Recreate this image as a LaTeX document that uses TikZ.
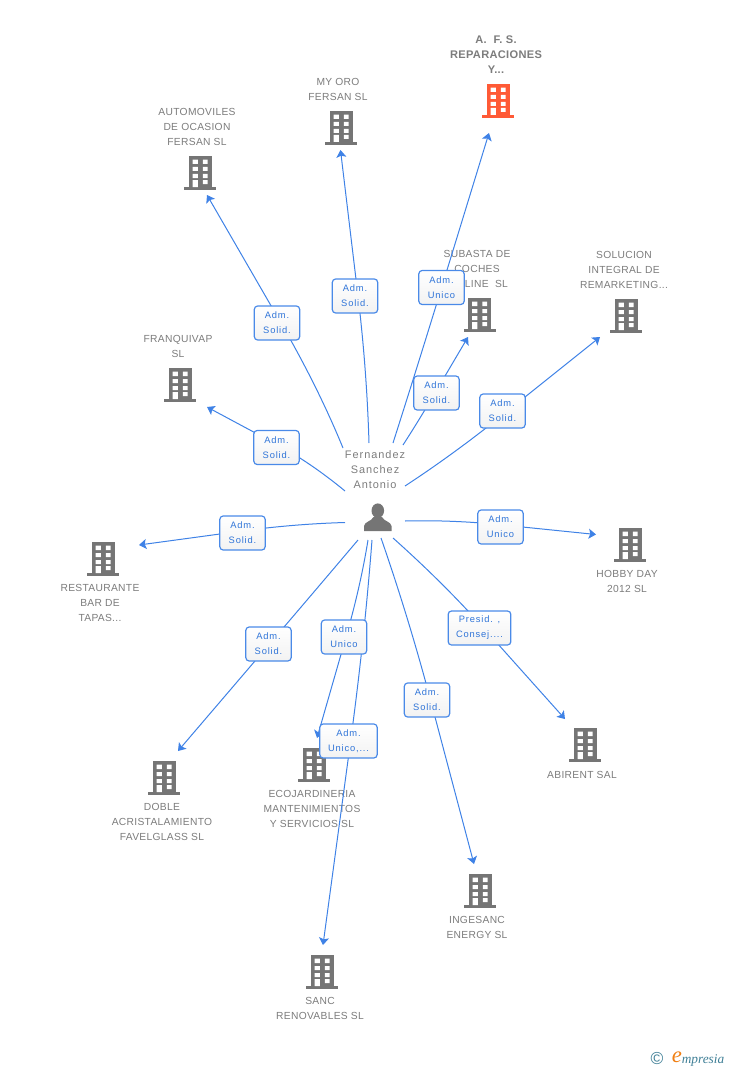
\documentclass[tikz,border=0pt]{standalone}
\usepackage{fontspec}
\setmainfont{Liberation Sans}
\newfontfamily\tagfont[LetterSpace=9]{Liberation Sans}
\newfontfamily\namefont[LetterSpace=3]{Liberation Sans}
\newfontfamily\personfont[LetterSpace=9]{Liberation Sans}
\newfontfamily\logofont{Liberation Serif}
\usetikzlibrary{arrows.meta,calc,shadings}
\pgfdeclarelayer{base}
\pgfdeclarelayer{edge}
\pgfsetlayers{base,edge,main}
\definecolor{linkblue}{HTML}{3F82E6}
\definecolor{boxblue}{HTML}{4A8AE8}
\definecolor{tagtext}{HTML}{2F74D8}
\definecolor{iconGrey}{HTML}{757575}
\definecolor{nameGrey}{HTML}{7C7C7C}
\definecolor{hot}{HTML}{FF5A36}
\definecolor{logoteal}{HTML}{3F7F96}
\definecolor{logoorange}{HTML}{F07F13}
\tikzset{
  bldg/.style={minimum width=33.5pt,minimum height=33.5pt,inner sep=0pt,
    path picture={
      \begin{scope}[shift={(path picture bounding box.center)},x=0.75pt,y=-0.75pt]
        \fill[#1] (-11.5,-16.7) rectangle (11.5,14.5);
        \fill[#1] (-16,14) rectangle (16,16.7);
        \fill[white] (-7.3,-13.3) rectangle (-2.2,-9) (2.8,-13.3) rectangle (7.5,-9);
        \fill[white] (-7.3,-6) rectangle (-2.2,-2) (2.8,-6) rectangle (7.5,-2);
        \fill[white] (-7.3,1) rectangle (-2.2,5) (2.8,1) rectangle (7.5,5);
        \fill[white] (-7.3,7) rectangle (-2.2,14) (2.8,7) rectangle (7.5,11);
      \end{scope}}},
  personicon/.style={minimum width=25pt,minimum height=25pt,inner sep=0pt,
    path picture={
      \begin{scope}[shift={(path picture bounding box.center)},x=0.75pt,y=-0.75pt]
        \fill[iconGrey] (0.3,-6.3) ellipse (6.3 and 7.3);
        \fill[iconGrey] (-13.5,14) -- (-13.5,9) .. controls (-13,4.5) and (-6,4.5) .. (-4,0)
          -- (4.5,0) .. controls (6.5,4.5) and (13.5,4.5) .. (14,9) -- (14,14) -- cycle;
      \end{scope}}},
  nametext/.style={font=\namefont\fontsize{7.7}{11.25}\selectfont,text=nameGrey,align=center,inner sep=0pt},
  tag/.style={draw=boxblue,line width=0.9pt,rounded corners=2.5pt,top color=white,bottom color=black!5,
    font=\tagfont\fontsize{7}{11.25}\selectfont,text=tagtext,align=center,inner sep=0pt,
    minimum height=25.5pt,minimum width=#1},
  tag/.default=34pt,
  link/.style={draw=linkblue,line width=0.75pt,-{Stealth[length=5.5pt,width=7.5pt,inset=1.2pt]}}
}
\newcommand{\linkcurve}[3]{\draw[link] (#1) .. controls ($(#1)!0.667!($(#2)!-0.5!(#3)$)$) and ($(#2)!0.667!($(#2)!-0.5!(#3)$)$) .. (#2) -- (#3);}
\begin{document}
\begin{tikzpicture}[x=0.75pt,y=-0.75pt]
\useasboundingbox (0,0) rectangle (728,1070);
\begin{pgfonlayer}{base}
  \node[bldg=hot] (afs) at (498,101) {};
  \node[bldg=iconGrey] (oro) at (341,128) {};
  \node[bldg=iconGrey] (auto) at (200,173) {};
  \node[bldg=iconGrey] (franq) at (180,385) {};
  \node[bldg=iconGrey] (sub) at (479.5,315) {};
  \node[bldg=iconGrey] (sol) at (626,316) {};
  \node[bldg=iconGrey] (hobby) at (630,545) {};
  \node[bldg=iconGrey] (rest) at (103,559) {};
  \node[bldg=iconGrey] (abi) at (585,745) {};
  \node[bldg=iconGrey] (eco) at (314,765) {};
  \node[bldg=iconGrey] (dob) at (164,778) {};
  \node[bldg=iconGrey] (inge) at (480,891) {};
  \node[bldg=iconGrey] (sanc) at (322,972) {};
  \node[personicon] (person) at (377.5,517) {};
  \node[nametext,font=\namefont\bfseries\fontsize{8.3}{11.25}\selectfont] (afst) at (496,55) {A.\ \ F.\ S.\\REPARACIONES\\Y...};
  \node[nametext] (orot) at (338,89.5) {MY ORO\\FERSAN SL};
  \node[nametext] (autot) at (197,127) {AUTOMOVILES\\DE OCASION\\FERSAN SL};
  \node[nametext] (franqt) at (178,346.5) {FRANQUIVAP\\SL};
  \node[nametext] (subt) at (477,269) {SUBASTA DE\\COCHES\\ON LINE\ \ SL};
  \node[nametext] (solt) at (624,270) {SOLUCION\\INTEGRAL DE\\REMARKETING...};
  \node[nametext,font=\personfont\fontsize{8.2}{11.25}\selectfont] (persont) at (375,470) {Fernandez\\Sanchez\\Antonio};
  \node[nametext] (hobbyt) at (627,581.5) {HOBBY DAY\\2012 SL};
  \node[nametext] (restt) at (100,603) {RESTAURANTE\\BAR DE\\TAPAS...};
  \node[nametext] (abit) at (582,775) {ABIRENT SAL};
  \node[nametext] (dobt) at (162,822) {DOBLE\\ACRISTALAMIENTO\\FAVELGLASS SL};
  \node[nametext] (ecot) at (312,809) {ECOJARDINERIA\\MANTENIMIENTOS\\Y SERVICIOS SL};
  \node[nametext] (inget) at (477,927.5) {INGESANC\\ENERGY SL};
  \node[nametext] (sanct) at (320,1008.5) {SANC\\RENOVABLES SL};
\end{pgfonlayer}

\node[tag] (lafs) at (441.5,287.5) {Adm.\\Unico};
\node[tag] (loro) at (355,296) {Adm.\\Solid.};
\node[tag] (lauto) at (277,323) {Adm.\\Solid.};
\node[tag] (lfranq) at (276.5,447.5) {Adm.\\Solid.};
\node[tag] (lsub) at (436.5,393) {Adm.\\Solid.};
\node[tag] (lsol) at (502.5,411) {Adm.\\Solid.};
\node[tag] (lhobby) at (500.5,527) {Adm.\\Unico};
\node[tag] (lrest) at (242.5,533) {Adm.\\Solid.};
\node[tag] (ldob) at (268.5,644) {Adm.\\Solid.};
\node[tag] (leco) at (344,637) {Adm.\\Unico};
\node[tag=43pt] (lsanc) at (348.5,741) {Adm.\\Unico,...};
\node[tag] (linge) at (427,700) {Adm.\\Solid.};
\node[tag=47pt] (labi) at (479.5,628) {Presid. ,\\Consej....};

% free ends at the person, at the tips, and where each line passes behind its tag
\coordinate (safs) at (393,443);   \coordinate (vafs) at (441.8,287);   \coordinate (eafs) at (489,133);
\coordinate (soro) at (369,443);   \coordinate (voro) at (358,296);     \coordinate (eoro) at (340.5,150);
\coordinate (sauto) at (343,448);  \coordinate (vauto) at (281,323);    \coordinate (eauto) at (207,195);
\coordinate (sfranq) at (345,491); \coordinate (vfranq) at (276,444);   \coordinate (efranq) at (207,407);
\coordinate (ssub) at (403,445);   \coordinate (vsub) at (435,393);     \coordinate (esub) at (468,337);
\coordinate (ssol) at (405,486);   \coordinate (vsol) at (502,415.4);   \coordinate (esol) at (600,337);
\coordinate (shobby) at (405,521); \coordinate (vhobby) at (500,524.7); \coordinate (ehobby) at (596,534.5);
\coordinate (sabi) at (393,538);   \coordinate (vabi) at (483.6,628);   \coordinate (eabi) at (565,719);
\coordinate (singe) at (381,538);  \coordinate (vinge) at (430.5,700);  \coordinate (einge) at (474,864);
\coordinate (ssanc) at (372,540);  \coordinate (vsanc) at (350.6,741);  \coordinate (esanc) at (323,945);
\coordinate (seco) at (368,540);   \coordinate (veco) at (346,637);     \coordinate (eeco) at (317,738);
\coordinate (sdob) at (358,540);   \coordinate (vdob) at (269.5,644);   \coordinate (edob) at (178,751);
\coordinate (srest) at (345,522.5);\coordinate (vrest) at (242,531);    \coordinate (erest) at (139,545);

\begin{pgfonlayer}{edge}
  \linkcurve{safs}{vafs}{eafs}
  \linkcurve{soro}{voro}{eoro}
  \linkcurve{sauto}{vauto}{eauto}
  \linkcurve{sfranq}{vfranq}{efranq}
  \linkcurve{ssub}{vsub}{esub}
  \linkcurve{ssol}{vsol}{esol}
  \linkcurve{shobby}{vhobby}{ehobby}
  \linkcurve{sabi}{vabi}{eabi}
  \linkcurve{singe}{vinge}{einge}
  \linkcurve{ssanc}{vsanc}{esanc}
  \linkcurve{seco}{veco}{eeco}
  \linkcurve{sdob}{vdob}{edob}
  \linkcurve{srest}{vrest}{erest}
\end{pgfonlayer}

\node[inner sep=0pt,text=logoteal,font=\fontsize{13}{13}\selectfont] (logoc) at (657,1059) {©};
\node[inner sep=0pt,text=logoorange,font=\logofont\itshape\fontsize{17}{17}\selectfont] (logoe) at (677,1057) {e};
\node[inner sep=0pt,text=logoteal,font=\logofont\itshape\fontsize{10}{10}\selectfont,anchor=west] (logot) at (681.5,1060) {mpresia};
\end{tikzpicture}
\end{document}
